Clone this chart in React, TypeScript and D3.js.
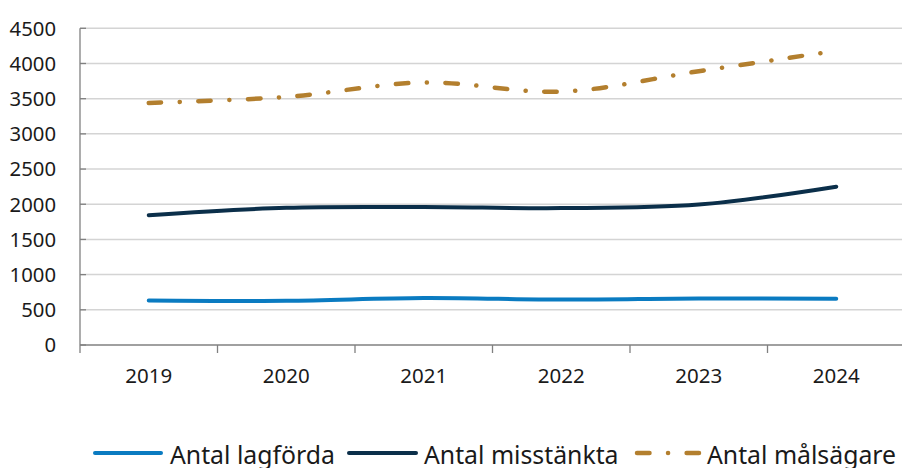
import React from "react";
import * as d3 from "d3";

const years = ["2019", "2020", "2021", "2022", "2023", "2024"];
const lagforda = [632, 628, 668, 645, 660, 658];
const misstankta = [1845, 1950, 1960, 1945, 1995, 2250];
const malsagare = [3440, 3525, 3730, 3600, 3890, 4180];
const yTicks = [0, 500, 1000, 1500, 2000, 2500, 3000, 3500, 4000, 4500];

const series = [
  { name: "Antal lagförda", values: lagforda, color: "#0A7BC1", width: 4, dash: null as string | null },
  { name: "Antal misstänkta", values: misstankta, color: "#0B2F4A", width: 4, dash: null as string | null },
  { name: "Antal målsägare", values: malsagare, color: "#B37F2E", width: 4.5, dash: "12.5 18.5 0.1 18.5" },
];

const W = 902;
const H = 468;
const left = 80;
const right = 905;
const top = 28.3;
const bottom = 345;
const font = "'Noto Sans', 'Open Sans', sans-serif";

export default function App() {
  const x = d3.scaleBand<string>().domain(years).range([left, right]);
  const y = d3.scaleLinear().domain([0, 4500]).range([bottom, top]);
  const line = d3
    .line<number>()
    .x((_, i) => (x(years[i]) as number) + x.bandwidth() / 2)
    .y((d) => y(d))
    .curve(d3.curveCatmullRom.alpha(0.5));

  const legendItems = [
    { x1: 93, x2: 163, tx: 170 },
    { x1: 347, x2: 418, tx: 424 },
    { x1: 635, x2: 701, tx: 707 },
  ];

  return (
    <svg width={W} height={H} style={{ position: "absolute", left: 0, top: 0 }} fontFamily={font}>
      <rect width={W} height={H} fill="#fff" />
      {yTicks.map((t) =>
        t === 0 ? null : (
          <line key={"g" + t} x1={left} x2={right} y1={y(t)} y2={y(t)} stroke="#d4d4d4" strokeWidth={1.5} />
        )
      )}
      {yTicks.map((t) => (
        <line key={"yt" + t} x1={left} x2={left + 6} y1={y(t)} y2={y(t)} stroke="#808080" strokeWidth={1.3} />
      ))}
      {yTicks.map((t) => (
        <text key={"yl" + t} x={56} y={y(t)} dy="0.36em" textAnchor="end" fontSize={20.3} fill="#1a1a1a">
          {t}
        </text>
      ))}
      <line x1={left} x2={left} y1={top} y2={bottom} stroke="#808080" strokeWidth={1.3} />
      <line x1={left} x2={right} y1={bottom} y2={bottom} stroke="#808080" strokeWidth={1.3} />
      {years.map((yr) => (
        <line
          key={"xt" + yr}
          x1={x(yr) as number}
          x2={x(yr) as number}
          y1={bottom}
          y2={bottom + 8}
          stroke="#808080"
          strokeWidth={1.3}
        />
      ))}
      {years.map((yr) => (
        <text
          key={"xl" + yr}
          x={(x(yr) as number) + x.bandwidth() / 2}
          y={383.3}
          textAnchor="middle"
          fontSize={20.5}
          fill="#1a1a1a"
        >
          {yr}
        </text>
      ))}
      {series.map((s) => (
        <path
          key={s.name}
          d={line(s.values) || ""}
          fill="none"
          stroke={s.color}
          strokeWidth={s.width}
          strokeLinecap="round"
          strokeDasharray={s.dash || undefined}
        />
      ))}
      {series.map((s, i) => (
        <g key={"lg" + s.name}>
          <line
            x1={legendItems[i].x1 + 2}
            x2={legendItems[i].x2 - 2}
            y1={453}
            y2={453}
            stroke={s.color}
            strokeWidth={s.width}
            strokeLinecap="round"
            strokeDasharray={s.dash || undefined}
          />
          <text x={legendItems[i].tx} y={464.3} fontSize={24.8} fill="#1a1a1a">
            {s.name}
          </text>
        </g>
      ))}
    </svg>
  );
}
